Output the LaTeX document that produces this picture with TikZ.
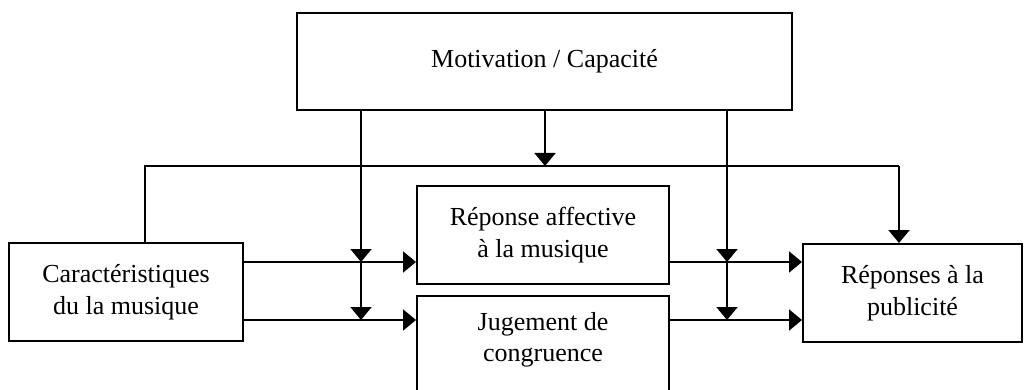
\documentclass[tikz,border=0pt]{standalone}
\usepackage{fontspec}
\setmainfont{Liberation Serif}
\usetikzlibrary{arrows.meta}
\begin{document}
\begin{tikzpicture}[x=1pt,y=-1pt,
  box/.style={draw, line width=2pt, rectangle, inner sep=0pt, align=center,
    font=\fontsize{26}{31.5}\selectfont},
  txt/.style={inner sep=0pt, align=center, font=\fontsize{26}{31.5}\selectfont},
  conn/.style={line width=2pt},
  arr/.style={line width=2pt, -{Triangle[width=21pt,length=13pt]}}]
\useasboundingbox (0,0) rectangle (1024,390);
\clip (0,0) rectangle (1024,390);
% boxes
\node[box, minimum width=495, minimum height=97] (mot) at (544.5,61.5) {Motivation / Capacité};
\node[box, minimum width=234, minimum height=98] (car) at (126,292) {Caractéristiques\\du la musique};
\node[box, minimum width=252, minimum height=98] (aff) at (543,235) {Réponse affective\\à la musique};
\node[box, minimum width=252, minimum height=130, anchor=north] (cong) at (543,295) {};
\node[txt] (congtxt) at (543,340) {Jugement de\\congruence};
\node[box, minimum width=219, minimum height=98] (pub) at (912.5,293) {Réponses à la\\publicité};
% junction coordinates
\coordinate (fbL) at (145,166);
\coordinate (fbR) at (899,166);
\coordinate (fbM) at (545,166);
\coordinate (jL1) at (361,262);
\coordinate (jL2) at (361,320);
\coordinate (jR1) at (727,262);
\coordinate (jR2) at (727,320);
% horizontal flows
\draw[arr] (car.east |- jL1) -- (aff.west |- jL1);
\draw[arr] (car.east |- jL2) -- (cong.west |- jL2);
\draw[arr] (aff.east |- jR1) -- (pub.west |- jR1);
\draw[arr] (cong.east |- jR2) -- (pub.west |- jR2);
% moderators
\draw[arr] (mot.south -| jL1) -- (jL1);
\draw[arr] (jL1) -- (jL2);
\draw[arr] (mot.south -| jR1) -- (jR1);
\draw[arr] (jR1) -- (jR2);
\draw[arr] (mot.south -| fbM) -- (fbM);
% direct path
\draw[conn] (car.north -| fbL) -- (fbL) -- (fbR);
\draw[arr] (fbR) -- (pub.north -| fbR);
\end{tikzpicture}
\end{document}
